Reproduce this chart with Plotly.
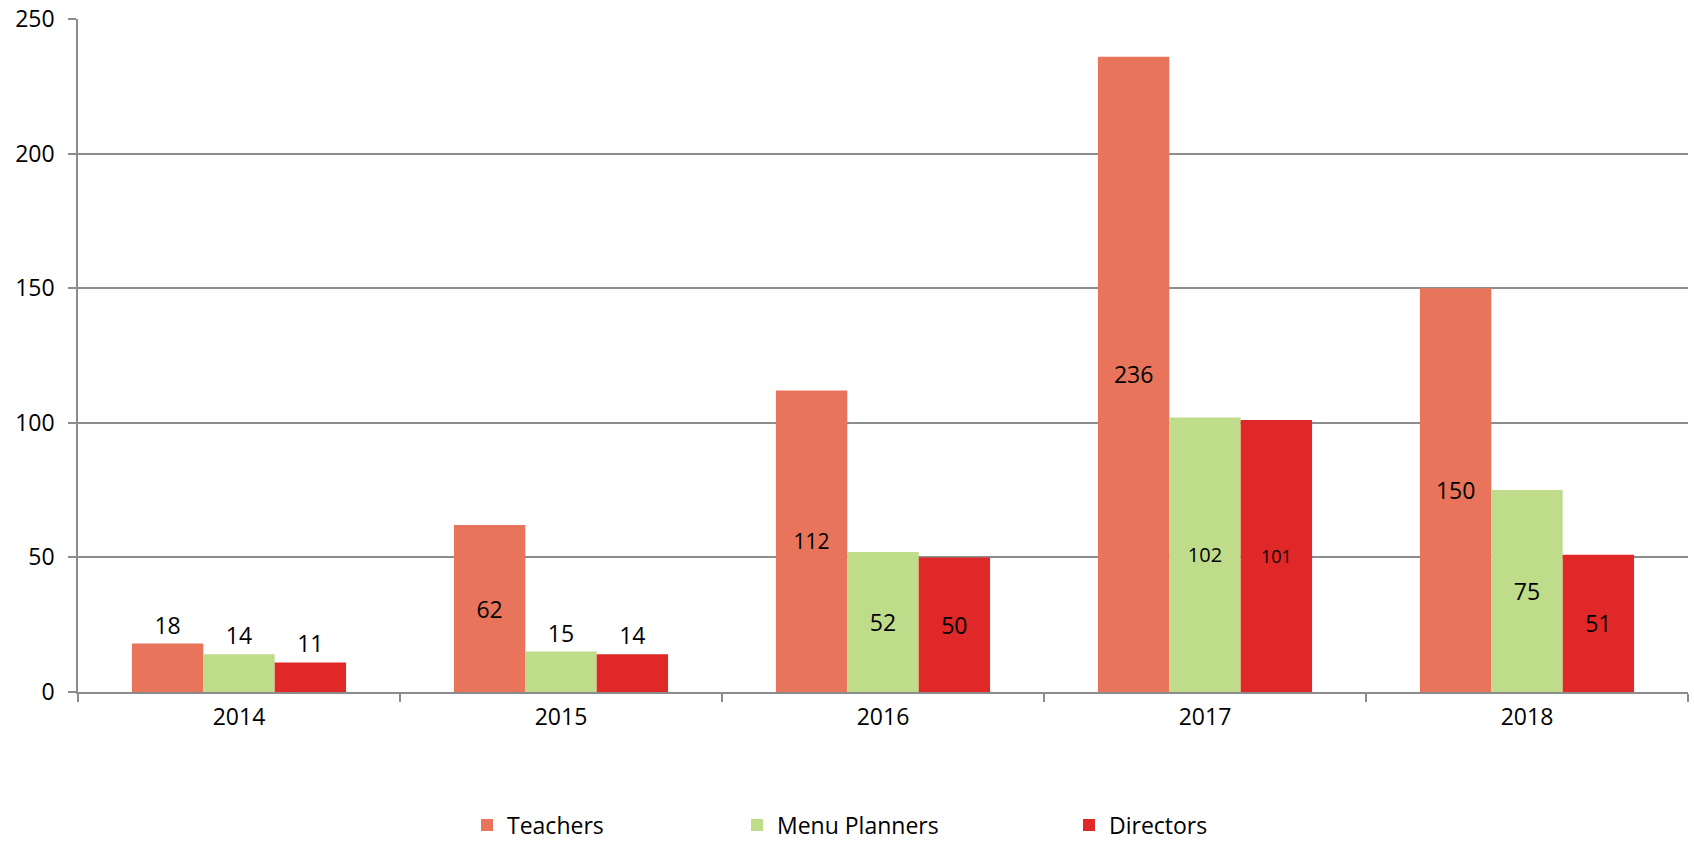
import plotly.graph_objects as go

years = ["2014", "2015", "2016", "2017", "2018"]
teachers = [18, 62, 112, 236, 150]
menu_planners = [14, 15, 52, 102, 75]
directors = [11, 14, 50, 101, 51]

teachers_pos = ["outside", "inside", "inside", "inside", "inside"]
menu_pos = ["outside", "outside", "inside", "inside", "inside"]
directors_pos = ["outside", "outside", "inside", "inside", "inside"]

teachers_size = [23, 23, 21, 23, 23]
menu_size = [23, 23, 23, 20, 23]
directors_size = [23, 23, 23, 18, 23]

FONT = "Open Sans"
GRAY = "#8c8c8c"

fig = go.Figure()
series = [
    ("Teachers", teachers, "#E8745B", teachers_pos, teachers_size, "legend"),
    ("Menu Planners", menu_planners, "#BFDC8B", menu_pos, menu_size, "legend2"),
    ("Directors", directors, "#E02828", directors_pos, directors_size, "legend3"),
]
for name, vals, color, pos, sizes, lg in series:
    fig.add_trace(go.Bar(
        x=years, y=vals, name=name,
        marker=dict(color=color, line=dict(width=0)),
        text=[str(v) for v in vals],
        textposition=pos,
        insidetextanchor="middle",
        textfont=dict(family=FONT, size=sizes, color="black"),
        constraintext="none",
        cliponaxis=False,
        legend=lg,
        showlegend=True,
    ))

def leg(xpx):
    return dict(
        orientation="h", xref="container", yref="container",
        x=xpx / 1694, xanchor="left", y=19 / 844, yanchor="middle",
        font=dict(family=FONT, size=23, color="black"),
        bgcolor="rgba(0,0,0,0)", borderwidth=0,
    )

fig.update_layout(
    width=1694, height=844,
    margin=dict(l=78, r=6, t=19, b=152, autoexpand=False),
    paper_bgcolor="white", plot_bgcolor="white",
    barmode="group", bargap=0.335, bargroupgap=0,
    font=dict(family=FONT, size=23, color="black"),
    showlegend=True,
    legend=leg(467),
    legend2=leg(737),
    legend3=leg(1069),
    xaxis=dict(
        type="category", tickson="boundaries", ticks="outside", ticklen=8,
        tickcolor=GRAY, tickwidth=1.5, showline=True, linecolor=GRAY, linewidth=1.5,
        showgrid=False, tickfont=dict(family=FONT, size=23, color="black"),
        ticklabelstandoff=4,
    ),
    yaxis=dict(
        range=[0, 250], dtick=50, tick0=0, ticks="outside", ticklen=8,
        tickcolor=GRAY, tickwidth=1.5, showline=True, linecolor=GRAY, linewidth=1.5,
        showgrid=True, gridcolor=GRAY, gridwidth=1.5, zeroline=False,
        tickfont=dict(family=FONT, size=23, color="black"),
        ticklabelstandoff=9,
    ),
)

fig.write_html(
    "out.html",
    config={"displayModeBar": False},
    post_script="document.body.style.margin='0';document.body.style.overflow='hidden';",
)
